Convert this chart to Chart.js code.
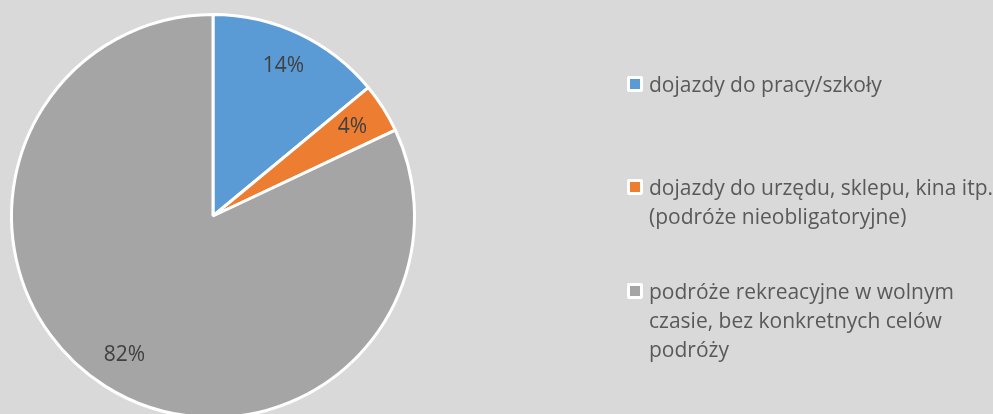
<!DOCTYPE html>
<html>
<head>
<meta charset="utf-8">
<script src="https://cdn.jsdelivr.net/npm/chart.js@4"></script>
<style>
  html, body { margin: 0; padding: 0; background: #d9d9d9; overflow: hidden; }
  body { width: 993px; height: 414px; position: relative; font-family: "Open Sans", sans-serif; }
  #wrap { position: absolute; left: 0; top: 0; width: 993px; height: 431px; }
  #legend { position: absolute; left: 627px; top: 0; color: #595959; font-size: 21px; line-height: 29px; }
  .item { position: absolute; left: 0; white-space: nowrap; }
  .box { position: absolute; left: 0; top: 6px; width: 10px; height: 10px; border: 3px solid #fff; border-radius: 2px; }
  .txt { position: absolute; left: 22px; top: 0; }
</style>
</head>
<body>
<div id="wrap"><canvas id="pieChart"></canvas></div>
<div id="legend"></div>
<script>
// categories (legend lines) and values in percent
const categories = [
    ["dojazdy do pracy/szkoły"],
    ["dojazdy do urzędu, sklepu, kina itp.", "(podróże nieobligatoryjne)"],
    ["podróże rekreacyjne w wolnym", "czasie, bez konkretnych celów", "podróży"]
];
const values = [14, 4, 82];
const colors = ["#5b9bd5", "#ed7d31", "#a5a5a5"];
const legendTops = [70, 173, 277];

// draws the percent labels inside the slices
const sliceLabels = {
    id: "sliceLabels",
    afterDatasetsDraw(chart) {
        const ctx = chart.ctx;
        const meta = chart.getDatasetMeta(0);
        ctx.save();
        ctx.font = "21px 'Open Sans'";
        ctx.fillStyle = "#404040";
        ctx.textAlign = "center";
        ctx.textBaseline = "middle";
        meta.data.forEach((arc, i) => {
            const p = arc.getProps(["x", "y", "startAngle", "endAngle", "outerRadius"], true);
            const mid = (p.startAngle + p.endAngle) / 2;
            const r = p.outerRadius * 0.82;
            ctx.fillText(values[i] + "%", p.x + Math.cos(mid) * r, p.y + Math.sin(mid) * r);
        });
        ctx.restore();
    }
};

const ctx = document.getElementById("pieChart").getContext("2d");
const chart = new Chart(ctx, {
    type: "pie",
    data: {
        labels: categories.map(c => c.join(" ")),
        datasets: [{
            data: values,
            backgroundColor: colors,
            borderColor: "#ffffff",
            borderWidth: 3
        }]
    },
    options: {
        responsive: true,
        maintainAspectRatio: false,
        animation: false,
        layout: { padding: { left: 10, right: 577, top: 13, bottom: 12 } },
        plugins: {
            legend: { display: false },
            tooltip: { enabled: false }
        }
    },
    plugins: [sliceLabels]
});

const legend = document.getElementById("legend");
categories.forEach((lines, i) => {
    const item = document.createElement("div");
    item.className = "item";
    item.style.top = legendTops[i] + "px";
    item.innerHTML = '<div class="box" style="background:' + colors[i] + '"></div>' +
        '<div class="txt">' + lines.join("<br>") + "</div>";
    legend.appendChild(item);
});
</script>
</body>
</html>
